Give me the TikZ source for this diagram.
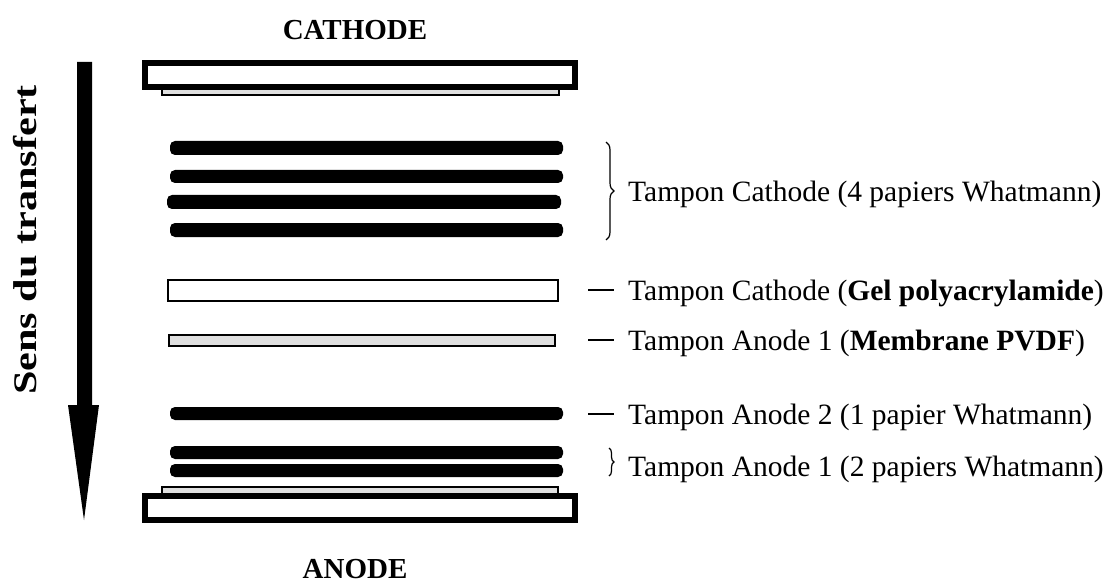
\documentclass[tikz,border=0pt]{standalone}
\usepackage{fontspec}
\usepackage{graphicx}
\setmainfont{Liberation Serif}
\usetikzlibrary{decorations.pathreplacing}
\tikzset{
  lbl/.style={anchor=base west, inner sep=0pt, font=\fontsize{29.5}{34}\selectfont},
  ttl/.style={anchor=base, inner sep=0pt, font=\fontsize{29}{34}\selectfont\bfseries},
  paper/.style={fill=black, rounded corners=5pt},
  electrode/.style={draw=black, line width=6pt, fill=white},
  strip/.style={draw=black, line width=2pt, fill=gray!25},
  dashline/.style={draw=black, line width=2pt},
  bracestyle/.style={draw=black, line width=1.2pt, decorate}
}
\begin{document}
\begin{tikzpicture}[x=1pt,y=-1pt]
\useasboundingbox (0,0) rectangle (1120,583);
\fill[white] (0,0) rectangle (1120,583);

% titles
\node[ttl] (cath) at (355,40) {CATHODE};
\node[ttl] (anode) at (355,578) {ANODE};

% direction arrow
\fill[black] (77,62) -- (92,62) -- (92,405) -- (99,405) -- (84,520) -- (68,405) -- (77,405) -- cycle;
\node[inner sep=0pt, rotate=90, anchor=center, font=\fontsize{33}{36}\selectfont\bfseries] (sens) at (25,240) {\scalebox{1.28}[1]{Sens du transfert}};

% top electrode
\draw[strip] (162,84) rectangle (559,95);
\draw[electrode] (145,63) rectangle (575,87);

% 4 papers cathode
\fill[paper] (170,141) rectangle (563,155);
\fill[paper] (170,170) rectangle (563,183);
\fill[paper] (167,195) rectangle (561,209);
\fill[paper] (170,223) rectangle (563,237);

% gel
\draw[draw=black, line width=2.5pt, fill=white] (168,280) rectangle (558,301);
% membrane
\draw[strip] (169,335) rectangle (555,346);

% anode papers
\fill[paper] (170,407) rectangle (563,420);
\fill[paper] (170,446) rectangle (563,459);
\fill[paper] (170,464) rectangle (563,477);

% bottom electrode
\draw[strip] (162,487) rectangle (558,497);
\draw[electrode] (145,496) rectangle (575,520);

% labels
\draw[bracestyle, decoration={brace, amplitude=8pt}] (606,142) -- (606,240);
\node[lbl] (l1) at (628,201) {Tampon Cathode (4 papiers Whatmann)};

\draw[dashline] (588,290) -- (614,290);
\node[lbl] (l2) at (628,300) {Tampon Cathode (\textbf{Gel polyacrylamide})};

\draw[dashline] (588,340) -- (614,340);
\node[lbl] (l3) at (628,350) {Tampon Anode 1 (\textbf{Membrane PVDF})};

\draw[dashline] (588,414) -- (614,414);
\node[lbl] (l4) at (628,424) {Tampon Anode 2 (1 papier Whatmann)};

\draw[bracestyle, decoration={brace, amplitude=5pt}] (609,448) -- (609,476);
\node[lbl] (l5) at (628,476) {Tampon Anode 1 (2 papiers Whatmann)};
\end{tikzpicture}
\end{document}
